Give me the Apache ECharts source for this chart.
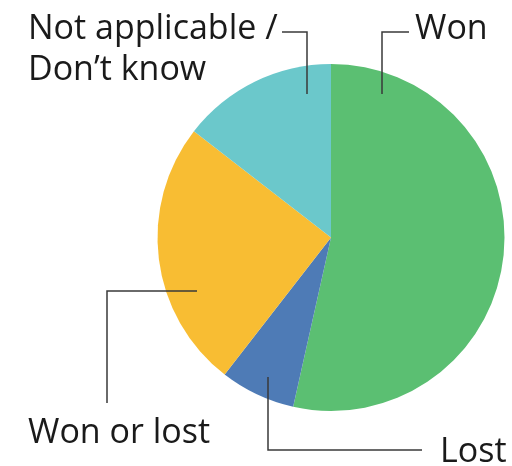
<!DOCTYPE html>
<html>
<head>
<meta charset="utf-8">
<script src="https://cdn.jsdelivr.net/npm/echarts@6/dist/echarts.min.js"></script>
<style>
  html, body { margin: 0; padding: 0; background: #fff; }
  #chart { width: 512px; height: 466px; }
</style>
</head>
<body>
<div id="chart"></div>
<script>
// 各扇区，从12点方向顺时针
var categories = ['Won', 'Lost', 'Won or lost', 'Not applicable /\nDon\u2019t know'];
var values = [53.5, 7, 25, 14.5];
var colors = ['#5BBF72', '#4E7BB6', '#F8BD33', '#6BC8CB'];

// 标签位置与折线（手工摆放）
var labelPos = [
  { x: 415, y: 29 },
  { x: 440, y: 452 },
  { x: 28, y: 433 },
  { x: 28, y: 49.5 }
];
var leaderLines = [
  [[382, 94], [382, 32], [409, 32]],
  [[268, 377], [268, 450], [422, 450]],
  [[197, 291], [107, 291], [107, 403]],
  [[307, 94], [307, 32], [282, 32]]
];

var myChart = echarts.init(document.getElementById('chart'));

var data = [];
for (var i = 0; i < categories.length; i++) {
  data.push({
    name: categories[i],
    value: values[i],
    itemStyle: { color: colors[i] }
  });
}

// 折线要压在扇区上面，用graphic画
var graphics = [];
for (var i = 0; i < leaderLines.length; i++) {
  graphics.push({
    type: 'polyline',
    z: 100,
    silent: true,
    shape: { points: leaderLines[i] },
    style: { stroke: '#3a3a3a', lineWidth: 1.5, fill: null }
  });
}

var option = {
  animation: false,
  graphic: graphics,
  series: [{
    type: 'pie',
    center: [331, 237.5],
    radius: 173.5,
    startAngle: 90,
    clockwise: true,
    avoidLabelOverlap: false,
    itemStyle: { borderWidth: 0 },
    label: {
      show: true,
      position: 'outside',
      formatter: '{b}',
      fontFamily: 'Open Sans',
      fontSize: 34,
      lineHeight: 41,
      color: '#1a1a1a'
    },
    labelLine: { show: false },
    labelLayout: function (params) {
      var p = labelPos[params.dataIndex];
      return {
        x: p.x,
        y: p.y,
        align: 'left',
        verticalAlign: 'middle'
      };
    },
    emphasis: { disabled: true },
    data: data
  }]
};

myChart.setOption(option);
</script>
</body>
</html>
